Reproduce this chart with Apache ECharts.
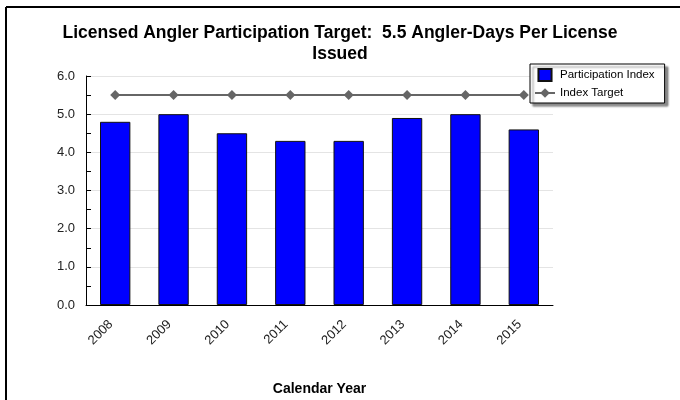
<!DOCTYPE html>
<html>
<head>
<meta charset="utf-8">
<script src="https://cdn.jsdelivr.net/npm/echarts@6/dist/echarts.min.js"></script>
<style>
  html, body { margin: 0; padding: 0; background: #fff; }
  #chart { width: 680px; height: 400px; }
</style>
</head>
<body>
<div id="chart"></div>
<script>
// data
var years = ["2008", "2009", "2010", "2011", "2012", "2013", "2014", "2015"];
var participation = [4.8, 5.0, 4.5, 4.3, 4.3, 4.9, 5.0, 4.6];
var target = [5.5, 5.5, 5.5, 5.5, 5.5, 5.5, 5.5, 5.5];

var myChart = echarts.init(document.getElementById("chart"));

var option = {
  backgroundColor: "#fff",
  textStyle: { fontFamily: "Liberation Sans, Arial, sans-serif" },
  title: {
    text: "Licensed Angler Participation Target:  5.5 Angler-Days Per License\nIssued",
    left: "center",
    top: 18,
    textStyle: {
      fontSize: 17.5,
      fontWeight: "bold",
      color: "#000",
      lineHeight: 21
    }
  },
  // outer frame (top and left edges only, as in the picture)
  graphic: [
    { type: "line", shape: { x1: 6, y1: 7, x2: 680, y2: 7 }, style: { stroke: "#000", lineWidth: 2 } },
    { type: "line", shape: { x1: 6, y1: 7, x2: 6, y2: 400 }, style: { stroke: "#000", lineWidth: 2 } }
  ],
  legend: {
    orient: "vertical",
    left: 530,
    top: 64,
    padding: [4, 10, 4, 4],
    itemGap: 5,
    itemWidth: 20,
    itemHeight: 12,
    backgroundColor: "#fff",
    borderColor: "#000",
    borderWidth: 1,
    shadowColor: "rgba(0,0,0,0.45)",
    shadowOffsetX: 3,
    shadowOffsetY: 3,
    shadowBlur: 2,
    textStyle: { fontSize: 11.5, color: "#000" },
    data: [
      { name: "Participation Index", icon: "path://M0,0H12V11H0Z" },
      { name: "Index Target" }
    ]
  },
  grid: {
    left: 86,
    right: 127,
    top: 76,
    bottom: 95,
    outerBoundsMode: "none"
  },
  xAxis: {
    type: "category",
    data: years,
    name: "Calendar Year",
    nameLocation: "middle",
    nameGap: 77,
    nameTextStyle: { fontSize: 14, fontWeight: "bold", color: "#000" },
    axisLine: { lineStyle: { color: "#000", width: 1 } },
    axisTick: { inside: true, length: 5, lineStyle: { color: "#000" } },
    axisLabel: { rotate: 45, fontSize: 13, color: "#222", margin: 13, padding: [0, 6, 0, 0] }
  },
  yAxis: {
    type: "value",
    min: 0,
    max: 6,
    interval: 1,
    axisLine: { show: true, lineStyle: { color: "#000", width: 1 } },
    axisTick: { show: true, inside: true, length: 5, lineStyle: { color: "#000" } },
    minorTick: { show: true, splitNumber: 2, length: 5, lineStyle: { color: "#000" } },
    axisLabel: {
      fontSize: 13,
      color: "#222",
      margin: 11,
      formatter: function (v) { return v.toFixed(1); }
    },
    splitLine: { show: true, lineStyle: { color: "#e4e4e4", width: 1 } }
  },
  series: [
    {
      name: "Participation Index",
      type: "bar",
      data: participation,
      barWidth: "52%",
      itemStyle: { color: "#0000ff", borderColor: "#111", borderWidth: 1 }
    },
    {
      name: "Index Target",
      type: "line",
      data: target,
      symbol: "diamond",
      symbolSize: 10,
      lineStyle: { color: "#666", width: 2 },
      itemStyle: { color: "#666" }
    }
  ]
};

myChart.setOption(option);
</script>
</body>
</html>
